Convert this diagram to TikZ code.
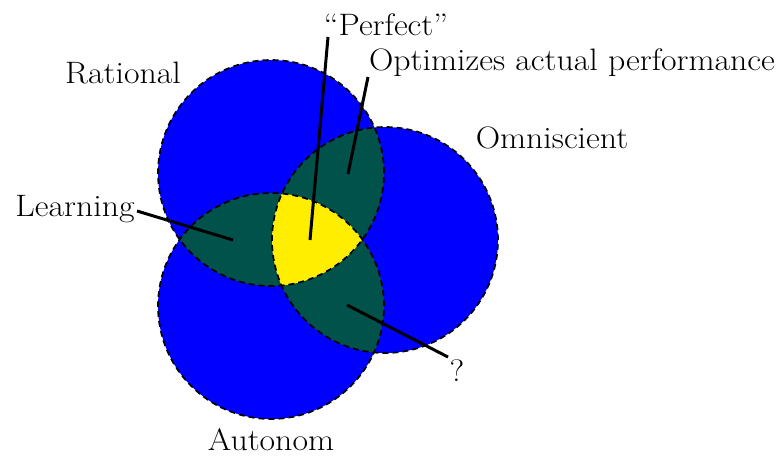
\documentclass[tikz,border=0pt]{standalone}
\usepackage{fontspec}
\definecolor{vblue}{RGB}{0,0,255}
\definecolor{vgreen}{RGB}{0,82,74}
\definecolor{vyellow}{RGB}{255,238,0}
\begin{document}
\begin{tikzpicture}[x=1pt,y=-1pt,
  lbl/.style={inner sep=0pt,anchor=base,xscale=1.09,transform shape,font=\fontsize{31}{37}\selectfont},
  outline/.style={draw=black,dash pattern=on 6pt off 4pt,line width=1.7pt},
  pointer/.style={draw=black,line width=3pt}]
\useasboundingbox (0,0) rectangle (784,455);
\def\cR{(271,173) circle[radius=113pt]}
\def\cO{(385,240) circle[radius=113pt]}
\def\cA{(271,306) circle[radius=113pt]}
% base fills
\fill[vblue] \cR; \fill[vblue] \cO; \fill[vblue] \cA;
% pairwise intersections
\begin{scope}\clip \cR; \fill[vgreen] \cO; \end{scope}
\begin{scope}\clip \cR; \fill[vgreen] \cA; \end{scope}
\begin{scope}\clip \cO; \fill[vgreen] \cA; \end{scope}
% triple
\begin{scope}\clip \cR; \clip \cO; \fill[vyellow] \cA; \end{scope}
% outlines
\path[outline] \cR; \path[outline] \cO; \path[outline] \cA;
% labels
\node[lbl] (rational) at (123,83) {Rational};
\node[lbl] (omni) at (552,148) {Omniscient};
\node[lbl] (learning) at (75,216) {Learning};
\node[lbl] (autonom) at (271,450) {Autonom};
\node[lbl] (perfect) at (386,35) {“Perfect”};
\node[lbl] (optim) at (572,70) {Optimizes actual performance};
\node[lbl] (quest) at (457,381) {?};
% pointer ends
\coordinate (pfA) at (328,37);  \coordinate (pfB) at (310,240);
\coordinate (opA) at (368,77);  \coordinate (opB) at (348,174);
\coordinate (lnA) at (137,211); \coordinate (lnB) at (233,240);
\coordinate (quA) at (448,357); \coordinate (quB) at (347,305);
\draw[pointer] (pfA) -- (pfB);
\draw[pointer] (opA) -- (opB);
\draw[pointer] (lnA) -- (lnB);
\draw[pointer] (quA) -- (quB);
\end{tikzpicture}
\end{document}
